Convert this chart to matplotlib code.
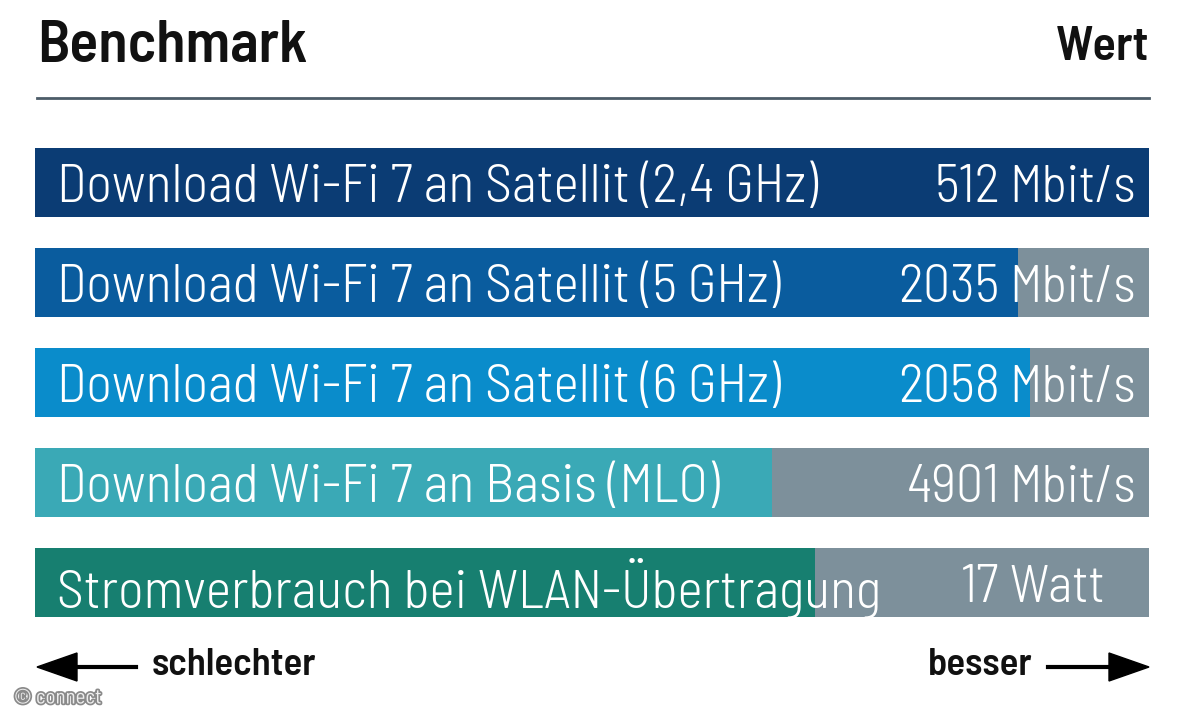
import matplotlib.pyplot as plt
import matplotlib.patheffects as pe
import numpy as np

labels = ['Download Wi-Fi 7 an Satellit (2,4 GHz)',
          'Download Wi-Fi 7 an Satellit (5 GHz)',
          'Download Wi-Fi 7 an Satellit (6 GHz)',
          'Download Wi-Fi 7 an Basis (MLO)',
          'Stromverbrauch bei WLAN-Übertragung']
values = ['512', '2035', '2058', '4901', '17']
units = ['Mbit/s', 'Mbit/s', 'Mbit/s', 'Mbit/s', 'Watt']
# score shown as bar fill (fraction of full width)
scores = [1.0, 0.882, 0.893, 0.662, 0.700]
colors = ['#0b3c74', '#0a5c9e', '#0a8ccb', '#3aa9b6', '#177f70']
grey = '#7d909b'

cond = ['Barlow Semi Condensed', 'DejaVu Sans']

W, H = 1200, 720
fig = plt.figure(figsize=(12, 7.2), dpi=100)
fig.patch.set_facecolor('white')

# bars
ax = fig.add_axes([35 / W, 1 - 617 / H, (1149 - 35) / W, (617 - 148) / H])
y = np.arange(len(labels))
ax.barh(y, [1.0] * len(labels), height=0.69, color=grey)
ax.barh(y, scores, height=0.69, color=colors)
ax.set_xlim(0, 1)
ax.set_ylim(4.345, -0.345)
ax.axis('off')

for i in range(len(labels)):
    ax.text(0.02, i + 0.06, labels[i], color='white', fontsize=39,
            family=cond, fontweight=300, va='center', ha='left')
    ax.text(0.866, i + 0.06, values[i], color='white', fontsize=39,
            family=cond, fontweight=300, va='center', ha='right')
    ax.text(0.875, i + 0.06, units[i], color='white', fontsize=38,
            family=cond, fontweight=300, va='center', ha='left')

# header
fig.text(37 / W, 1 - 46 / H, 'Benchmark', fontsize=43, fontweight='semibold',
         family=cond, va='center', ha='left', color='#111111')
fig.text(1149 / W, 1 - 47 / H, 'Wert', fontsize=35, fontweight='semibold',
         family=cond, va='center', ha='right', color='#111111')
fig.add_artist(plt.Line2D([37 / W, 1149 / W], [1 - 98 / H, 1 - 98 / H],
                          color='#4c5c68', lw=2))

# footer arrows
fig.text(152 / W, 1 - 665 / H, 'schlechter', fontsize=28, fontweight='semibold',
         family=cond, va='center', ha='left', color='#111111')
fig.text(1032 / W, 1 - 665 / H, 'besser', fontsize=28, fontweight='semibold',
         family=cond, va='center', ha='right', color='#111111')
fig.add_artist(plt.Line2D([62 / W, 136 / W], [1 - 667 / H] * 2, color='black', lw=3))
fig.add_artist(plt.Polygon([[37 / W, 1 - 667 / H], [77 / W, 1 - 653 / H],
                            [77 / W, 1 - 681 / H]], color='black'))
fig.add_artist(plt.Line2D([1048 / W, 1122 / W], [1 - 667 / H] * 2, color='black', lw=3))
fig.add_artist(plt.Polygon([[1149 / W, 1 - 667 / H], [1109 / W, 1 - 653 / H],
                            [1109 / W, 1 - 681 / H]], color='black'))

fig.text(14 / W, 1 - 698 / H, '© connect', fontsize=15, family=cond,
         va='center', ha='left', color='#eeeeee',
         path_effects=[pe.withStroke(linewidth=2.5, foreground='#8a8a8a')])

plt.savefig('out.png', dpi=100, facecolor='white')
